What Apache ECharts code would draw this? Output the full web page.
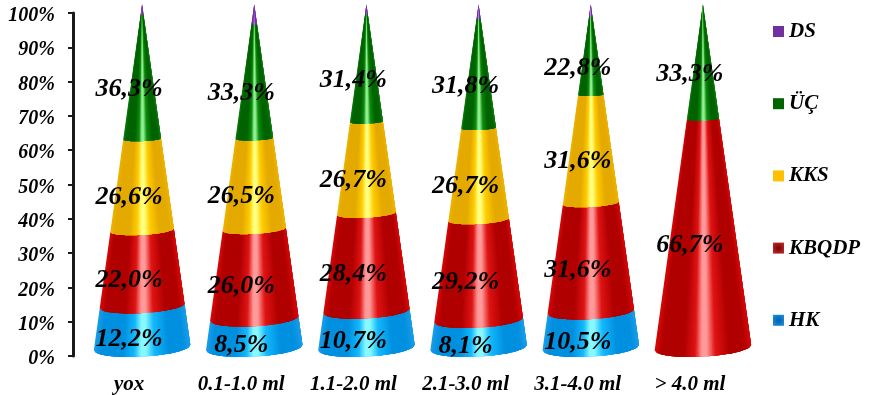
<!DOCTYPE html>
<html><head><meta charset="utf-8">
<style>html,body{margin:0;padding:0;background:#fff}#c{width:870px;height:395px}</style>
<script src="https://cdn.jsdelivr.net/npm/echarts@6/dist/echarts.min.js"></script>
</head><body><div id="c"></div>
<script>
const categories = ['yox','0.1-1.0 ml','1.1-2.0 ml','2.1-3.0 ml','3.1-4.0 ml','> 4.0 ml'];
const hk    = [12.2, 8.5, 10.7, 8.1, 10.5, 0];
const kbqdp = [22.0, 26.0, 28.4, 29.2, 31.6, 66.7];
const kks   = [26.6, 26.5, 26.7, 26.7, 31.6, 0];
const uc    = [36.3, 33.3, 31.4, 31.8, 22.8, 33.3];
const ds    = [2.9, 5.7, 2.8, 4.2, 3.5, 0];

const FONT = '"Liberation Serif","Times New Roman",serif';
const palettes = {
  HK:    {edge:'#1c9ce8', dark:'#0090e0', mid:'#14b8fc', hi:'#88f8ff'},
  KBQDP: {edge:'#d80808', dark:'#b00000', mid:'#e01414', hi:'#ff9a9a'},
  KKS:   {edge:'#eeb400', dark:'#e4aa00', mid:'#ffcc00', hi:'#ffff80'},
  'ÜÇ':  {edge:'#108010', dark:'#006400', mid:'#108c10', hi:'#90f090'},
  DS:    {edge:'#7030a0', dark:'#7030a0', mid:'#9050c0', hi:'#c8a0e8'}
};
const hex = h => [1,3,5].map(i => parseInt(h.substr(i,2),16));
function shade(p, t){
  const st = [[0,p.edge],[.07,p.dark],[.3,p.dark],[.42,p.mid],[.49,p.hi],[.54,p.hi],[.63,p.mid],[.78,p.dark],[.93,p.dark],[1,p.edge]];
  for(let i=1;i<st.length;i++){
    if(t<=st[i][0]){
      const f=(t-st[i-1][0])/(st[i][0]-st[i-1][0]), a=hex(st[i-1][1]), b=hex(st[i][1]);
      return 'rgb('+a.map((v,k)=>Math.round(v+(b[k]-v)*f)).join(',')+')';
    }
  }
  return p.edge;
}
const STRIPS = 72, DX = 13, DY = -8.5;
function ring(api, cat, v, cosv){
  const c = api.coord([cat, v]);
  const R = api.size([1,0])[0]*0.43;
  const r = R*(1-v/100);
  const ratio = 0.07+0.12*(r/R);
  const tilt = 0.055*Math.min(1, r/28);
  const sin = Math.sqrt(Math.max(0,1-cosv*cosv));
  return [c[0]+DX+r*cosv, c[1]+DY+r*ratio*sin-tilt*r*cosv];
}
function coneItem(name){
  const p = palettes[name];
  return function(params, api){
    const cat=api.value(0), v0=api.value(1), v1=api.value(2), lab=api.value(3);
    const children=[];
    if(v1<=v0) return {type:'group',children};
    for(let i=0;i<STRIPS;i++){
      // every strip runs on under the next one, so that no seam shows between them
      const col=shade(p,(i+.5)/STRIPS);
      const pts=[];
      for(let k=i;k<=Math.min(STRIPS,i+4);k++) pts.push(ring(api,cat,v0,2*k/STRIPS-1));
      for(let k=Math.min(STRIPS,i+4);k>=i;k--) pts.push(ring(api,cat,v1,2*k/STRIPS-1));
      children.push({type:'polygon',silent:true,shape:{points:pts},style:{fill:col}});
    }
    if(lab){
      const m=api.coord([cat,(v0+v1)/2]);
      children.push({type:'text',silent:true,z2:100,
        style:{text:(v1-v0).toFixed(1).replace('.',',')+'%',x:m[0],y:m[1]+4,fill:'#000',
          font:'italic bold 26px '+FONT,align:'center',verticalAlign:'middle'}});
    }
    return {type:'group',children};
  };
}
const stack=[['HK',hk,1],['KBQDP',kbqdp,1],['KKS',kks,1],['ÜÇ',uc,1],['DS',ds,0]];
const base=categories.map(()=>0);
const series=stack.map(([name,vals,lab])=>{
  const data=vals.map((v,i)=>{const s=base[i];base[i]+=v;return [i,s,s+v,lab];});
  return {type:'custom',name,data,renderItem:coneItem(name),encode:{x:0,y:[1,2]},clip:false,
    itemStyle:{color:palettes[name].dark},animation:false,silent:true};
});
const bevel=(c,e)=>new echarts.graphic.RadialGradient(.5,.5,.7,[{offset:0,color:c},{offset:1,color:e}]);
const chart=echarts.init(document.getElementById('c'),null,{renderer:'canvas'});
chart.setOption({
  animation:false,backgroundColor:'#fff',
  grid:{left:73,top:13,width:673,height:344,containLabel:false},
  legend:{orient:'vertical',left:768,top:16,itemWidth:11,itemHeight:11,itemGap:51.2,icon:'rect',selectedMode:false,
    textStyle:{fontFamily:FONT,fontStyle:'italic',fontWeight:'bold',fontSize:21,color:'#000'},
    data:[{name:'DS',itemStyle:{color:'#7030a0'}},{name:'ÜÇ',itemStyle:{color:'#006400'}},{name:'KKS',itemStyle:{color:'#ffc000'}},
      {name:'KBQDP',itemStyle:{color:bevel('#7a0000','#c03030')}},{name:'HK',itemStyle:{color:bevel('#0060a8','#1c94e4')}}]},
  xAxis:{type:'category',data:categories,axisLine:{show:false},axisTick:{show:false},
    axisLabel:{interval:0,margin:18,fontFamily:FONT,fontStyle:'italic',fontWeight:'bold',fontSize:21,color:'#000'}},
  yAxis:{type:'value',min:0,max:100,interval:10,splitLine:{show:false},
    axisLine:{show:true,lineStyle:{color:'#1a1a1a',width:3}},
    axisTick:{show:true,length:5,lineStyle:{color:'#1a1a1a',width:2}},
    axisLabel:{margin:18,verticalAlign:'top',lineHeight:6,formatter:'{value}%',fontFamily:FONT,fontStyle:'italic',fontWeight:'bold',fontSize:20,color:'#000'}},
  series
});
</script></body></html>
